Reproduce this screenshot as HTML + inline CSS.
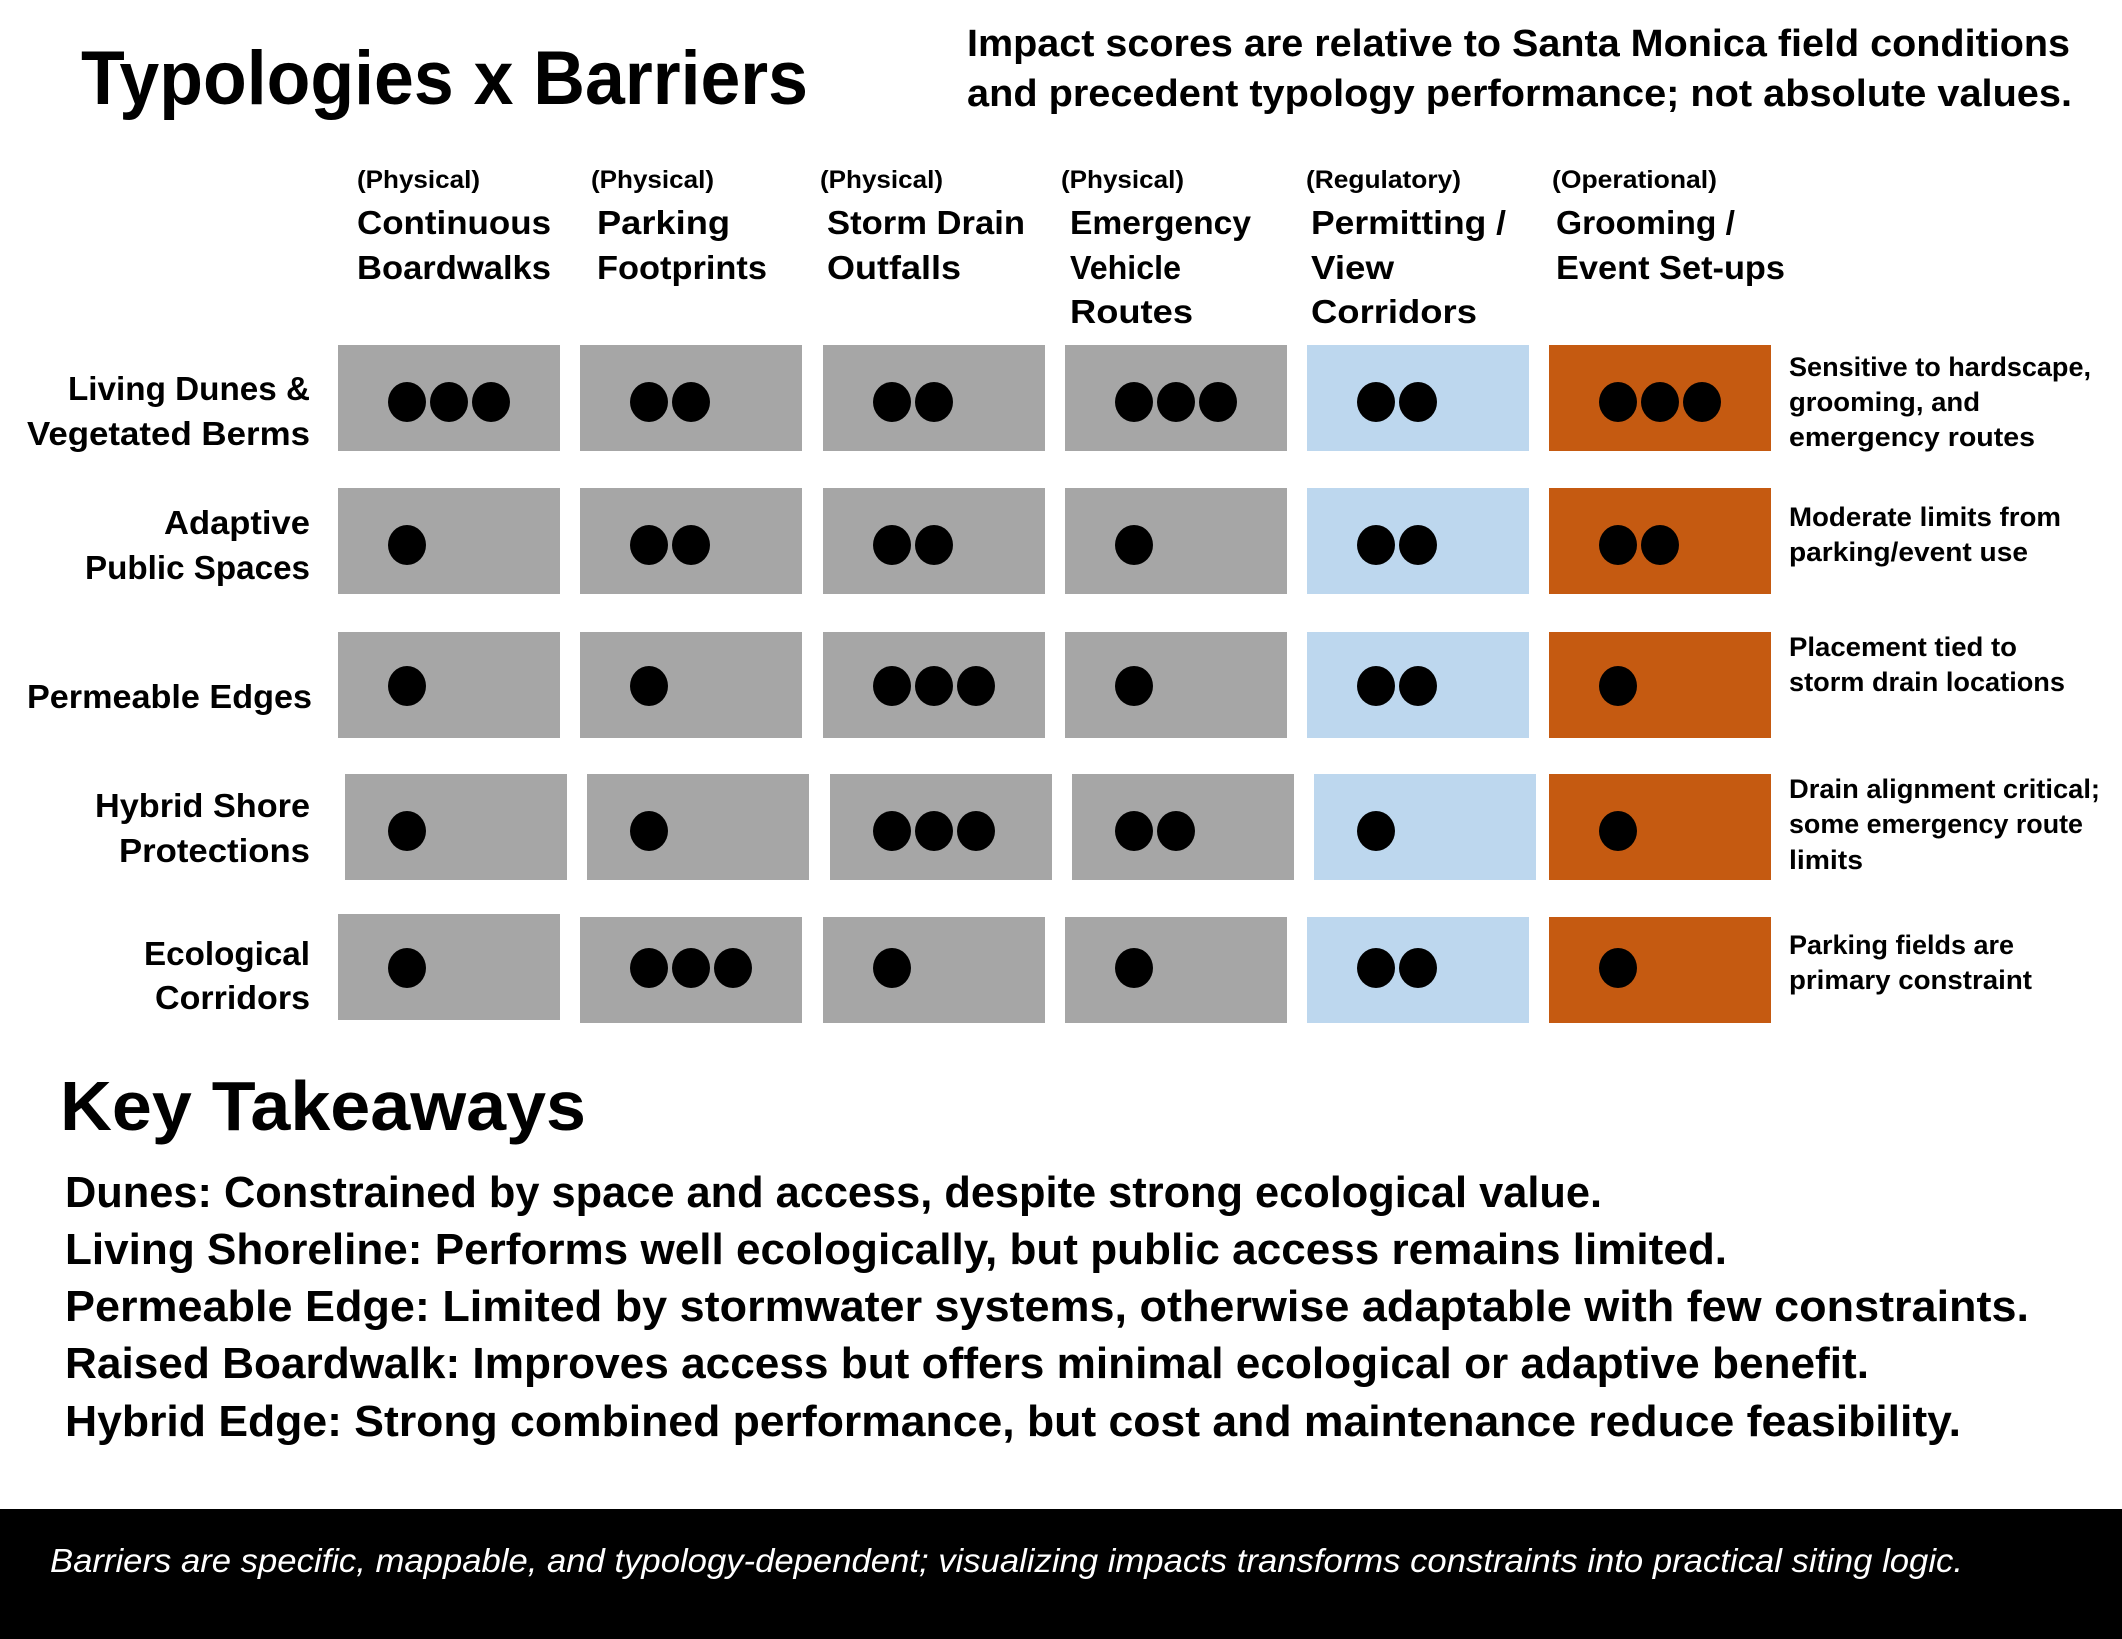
<!DOCTYPE html>
<html><head><meta charset="utf-8"><style>
html,body{margin:0;padding:0;background:#fff}
svg{display:block}
text{font-family:"Liberation Sans",Arial,sans-serif;font-weight:bold;fill:#000}
</style></head><body>
<svg width="2122" height="1639" viewBox="0 0 2122 1639" xmlns="http://www.w3.org/2000/svg">
<rect width="2122" height="1639" fill="#fff"/>
<text x="81" y="104" font-size="76" textLength="727" lengthAdjust="spacingAndGlyphs">Typologies x Barriers</text>
<text x="967" y="56" font-size="38" textLength="1103" lengthAdjust="spacingAndGlyphs">Impact scores are relative to Santa Monica field conditions</text>
<text x="967" y="106" font-size="38" textLength="1105" lengthAdjust="spacingAndGlyphs">and precedent typology performance; not absolute values.</text>

<g font-size="25">
<text x="357" y="188" textLength="123" lengthAdjust="spacingAndGlyphs">(Physical)</text>
<text x="591" y="188" textLength="123" lengthAdjust="spacingAndGlyphs">(Physical)</text>
<text x="820" y="188" textLength="123" lengthAdjust="spacingAndGlyphs">(Physical)</text>
<text x="1061" y="188" textLength="123" lengthAdjust="spacingAndGlyphs">(Physical)</text>
<text x="1306" y="188" textLength="155" lengthAdjust="spacingAndGlyphs">(Regulatory)</text>
<text x="1552" y="188" textLength="165" lengthAdjust="spacingAndGlyphs">(Operational)</text>
</g>
<g font-size="33">
<text x="357" y="234" textLength="194" lengthAdjust="spacingAndGlyphs">Continuous</text>
<text x="357" y="279" textLength="194" lengthAdjust="spacingAndGlyphs">Boardwalks</text>
<text x="597" y="234" textLength="133" lengthAdjust="spacingAndGlyphs">Parking</text>
<text x="597" y="279" textLength="170" lengthAdjust="spacingAndGlyphs">Footprints</text>
<text x="827" y="234" textLength="198" lengthAdjust="spacingAndGlyphs">Storm Drain</text>
<text x="827" y="279" textLength="134" lengthAdjust="spacingAndGlyphs">Outfalls</text>
<text x="1070" y="234" textLength="181" lengthAdjust="spacingAndGlyphs">Emergency</text>
<text x="1070" y="279" textLength="111" lengthAdjust="spacingAndGlyphs">Vehicle</text>
<text x="1070" y="323" textLength="123" lengthAdjust="spacingAndGlyphs">Routes</text>
<text x="1311" y="234" textLength="195" lengthAdjust="spacingAndGlyphs">Permitting /</text>
<text x="1311" y="279" textLength="83" lengthAdjust="spacingAndGlyphs">View</text>
<text x="1311" y="323" textLength="166" lengthAdjust="spacingAndGlyphs">Corridors</text>
<text x="1556" y="234" textLength="179" lengthAdjust="spacingAndGlyphs">Grooming /</text>
<text x="1556" y="279" textLength="229" lengthAdjust="spacingAndGlyphs">Event Set-ups</text>
</g>

<g font-size="33" text-anchor="end">
<text x="310" y="400" textLength="242" lengthAdjust="spacingAndGlyphs">Living Dunes &amp;</text>
<text x="310" y="445" textLength="283" lengthAdjust="spacingAndGlyphs">Vegetated Berms</text>
<text x="310" y="534" textLength="146" lengthAdjust="spacingAndGlyphs">Adaptive</text>
<text x="310" y="579" textLength="225" lengthAdjust="spacingAndGlyphs">Public Spaces</text>
<text x="312" y="708" textLength="285" lengthAdjust="spacingAndGlyphs">Permeable Edges</text>
<text x="310" y="817" textLength="215" lengthAdjust="spacingAndGlyphs">Hybrid Shore</text>
<text x="310" y="862" textLength="191" lengthAdjust="spacingAndGlyphs">Protections</text>
<text x="310" y="965" textLength="166" lengthAdjust="spacingAndGlyphs">Ecological</text>
<text x="310" y="1009" textLength="155" lengthAdjust="spacingAndGlyphs">Corridors</text>
</g>

<g id="boxes">
<!-- row1 -->
<rect x="338" y="345" width="222" height="106" fill="#a6a6a6"/>
<rect x="580" y="345" width="222" height="106" fill="#a6a6a6"/>
<rect x="823" y="345" width="222" height="106" fill="#a6a6a6"/>
<rect x="1065" y="345" width="222" height="106" fill="#a6a6a6"/>
<rect x="1307" y="345" width="222" height="106" fill="#bdd7ee"/>
<rect x="1549" y="345" width="222" height="106" fill="#c55a11"/>
<!-- row2 -->
<rect x="338" y="488" width="222" height="106" fill="#a6a6a6"/>
<rect x="580" y="488" width="222" height="106" fill="#a6a6a6"/>
<rect x="823" y="488" width="222" height="106" fill="#a6a6a6"/>
<rect x="1065" y="488" width="222" height="106" fill="#a6a6a6"/>
<rect x="1307" y="488" width="222" height="106" fill="#bdd7ee"/>
<rect x="1549" y="488" width="222" height="106" fill="#c55a11"/>
<!-- row3 -->
<rect x="338" y="632" width="222" height="106" fill="#a6a6a6"/>
<rect x="580" y="632" width="222" height="106" fill="#a6a6a6"/>
<rect x="823" y="632" width="222" height="106" fill="#a6a6a6"/>
<rect x="1065" y="632" width="222" height="106" fill="#a6a6a6"/>
<rect x="1307" y="632" width="222" height="106" fill="#bdd7ee"/>
<rect x="1549" y="632" width="222" height="106" fill="#c55a11"/>
<!-- row4 -->
<rect x="345" y="774" width="222" height="106" fill="#a6a6a6"/>
<rect x="587" y="774" width="222" height="106" fill="#a6a6a6"/>
<rect x="830" y="774" width="222" height="106" fill="#a6a6a6"/>
<rect x="1072" y="774" width="222" height="106" fill="#a6a6a6"/>
<rect x="1314" y="774" width="222" height="106" fill="#bdd7ee"/>
<rect x="1549" y="774" width="222" height="106" fill="#c55a11"/>
<!-- row5 -->
<rect x="338" y="914" width="222" height="106" fill="#a6a6a6"/>
<rect x="580" y="917" width="222" height="106" fill="#a6a6a6"/>
<rect x="823" y="917" width="222" height="106" fill="#a6a6a6"/>
<rect x="1065" y="917" width="222" height="106" fill="#a6a6a6"/>
<rect x="1307" y="917" width="222" height="106" fill="#bdd7ee"/>
<rect x="1549" y="917" width="222" height="106" fill="#c55a11"/>
</g>

<g fill="#000">
<!-- row1 y=402 : 3,2,2,3,2,3 -->
<ellipse cx="407" cy="402" rx="19" ry="20"/><ellipse cx="449" cy="402" rx="19" ry="20"/><ellipse cx="491" cy="402" rx="19" ry="20"/>
<ellipse cx="649" cy="402" rx="19" ry="20"/><ellipse cx="691" cy="402" rx="19" ry="20"/>
<ellipse cx="892" cy="402" rx="19" ry="20"/><ellipse cx="934" cy="402" rx="19" ry="20"/>
<ellipse cx="1134" cy="402" rx="19" ry="20"/><ellipse cx="1176" cy="402" rx="19" ry="20"/><ellipse cx="1218" cy="402" rx="19" ry="20"/>
<ellipse cx="1376" cy="402" rx="19" ry="20"/><ellipse cx="1418" cy="402" rx="19" ry="20"/>
<ellipse cx="1618" cy="402" rx="19" ry="20"/><ellipse cx="1660" cy="402" rx="19" ry="20"/><ellipse cx="1702" cy="402" rx="19" ry="20"/>
<!-- row2 y=545 : 1,2,2,1,2,2 -->
<ellipse cx="407" cy="545" rx="19" ry="20"/>
<ellipse cx="649" cy="545" rx="19" ry="20"/><ellipse cx="691" cy="545" rx="19" ry="20"/>
<ellipse cx="892" cy="545" rx="19" ry="20"/><ellipse cx="934" cy="545" rx="19" ry="20"/>
<ellipse cx="1134" cy="545" rx="19" ry="20"/>
<ellipse cx="1376" cy="545" rx="19" ry="20"/><ellipse cx="1418" cy="545" rx="19" ry="20"/>
<ellipse cx="1618" cy="545" rx="19" ry="20"/><ellipse cx="1660" cy="545" rx="19" ry="20"/>
<!-- row3 y=686 : 1,1,3,1,2,1 -->
<ellipse cx="407" cy="686" rx="19" ry="20"/>
<ellipse cx="649" cy="686" rx="19" ry="20"/>
<ellipse cx="892" cy="686" rx="19" ry="20"/><ellipse cx="934" cy="686" rx="19" ry="20"/><ellipse cx="976" cy="686" rx="19" ry="20"/>
<ellipse cx="1134" cy="686" rx="19" ry="20"/>
<ellipse cx="1376" cy="686" rx="19" ry="20"/><ellipse cx="1418" cy="686" rx="19" ry="20"/>
<ellipse cx="1618" cy="686" rx="19" ry="20"/>
<!-- row4 y=831 : 1,1,3,2,1,1 -->
<ellipse cx="407" cy="831" rx="19" ry="20"/>
<ellipse cx="649" cy="831" rx="19" ry="20"/>
<ellipse cx="892" cy="831" rx="19" ry="20"/><ellipse cx="934" cy="831" rx="19" ry="20"/><ellipse cx="976" cy="831" rx="19" ry="20"/>
<ellipse cx="1134" cy="831" rx="19" ry="20"/><ellipse cx="1176" cy="831" rx="19" ry="20"/>
<ellipse cx="1376" cy="831" rx="19" ry="20"/>
<ellipse cx="1618" cy="831" rx="19" ry="20"/>
<!-- row5 y=968 : 1,3,1,1,2,1 -->
<ellipse cx="407" cy="968" rx="19" ry="20"/>
<ellipse cx="649" cy="968" rx="19" ry="20"/><ellipse cx="691" cy="968" rx="19" ry="20"/><ellipse cx="733" cy="968" rx="19" ry="20"/>
<ellipse cx="892" cy="968" rx="19" ry="20"/>
<ellipse cx="1134" cy="968" rx="19" ry="20"/>
<ellipse cx="1376" cy="968" rx="19" ry="20"/><ellipse cx="1418" cy="968" rx="19" ry="20"/>
<ellipse cx="1618" cy="968" rx="19" ry="20"/>
</g>

<g font-size="27">
<text x="1789" y="376" textLength="302" lengthAdjust="spacingAndGlyphs">Sensitive to hardscape,</text>
<text x="1789" y="411" textLength="191" lengthAdjust="spacingAndGlyphs">grooming, and</text>
<text x="1789" y="446" textLength="246" lengthAdjust="spacingAndGlyphs">emergency routes</text>
<text x="1789" y="526" textLength="272" lengthAdjust="spacingAndGlyphs">Moderate limits from</text>
<text x="1789" y="561" textLength="239" lengthAdjust="spacingAndGlyphs">parking/event use</text>
<text x="1789" y="656" textLength="228" lengthAdjust="spacingAndGlyphs">Placement tied to</text>
<text x="1789" y="691" textLength="276" lengthAdjust="spacingAndGlyphs">storm drain locations</text>
<text x="1789" y="798" textLength="311" lengthAdjust="spacingAndGlyphs">Drain alignment critical;</text>
<text x="1789" y="833" textLength="294" lengthAdjust="spacingAndGlyphs">some emergency route</text>
<text x="1789" y="869" textLength="74" lengthAdjust="spacingAndGlyphs">limits</text>
<text x="1789" y="954" textLength="225" lengthAdjust="spacingAndGlyphs">Parking fields are</text>
<text x="1789" y="989" textLength="243" lengthAdjust="spacingAndGlyphs">primary constraint</text>
</g>

<text x="60" y="1130" font-size="70" textLength="526" lengthAdjust="spacingAndGlyphs">Key Takeaways</text>
<g font-size="44">
<text x="65" y="1207" textLength="1537" lengthAdjust="spacingAndGlyphs">Dunes: Constrained by space and access, despite strong ecological value.</text>
<text x="65" y="1264" textLength="1662" lengthAdjust="spacingAndGlyphs">Living Shoreline: Performs well ecologically, but public access remains limited.</text>
<text x="65" y="1321" textLength="1964" lengthAdjust="spacingAndGlyphs">Permeable Edge: Limited by stormwater systems, otherwise adaptable with few constraints.</text>
<text x="65" y="1378" textLength="1804" lengthAdjust="spacingAndGlyphs">Raised Boardwalk: Improves access but offers minimal ecological or adaptive benefit.</text>
<text x="65" y="1436" textLength="1896" lengthAdjust="spacingAndGlyphs">Hybrid Edge: Strong combined performance, but cost and maintenance reduce feasibility.</text>
</g>

<rect x="0" y="1509" width="2122" height="130" fill="#000"/>
<text x="50" y="1572" font-size="33" font-weight="normal" font-style="italic" fill="#fff" style="fill:#fff;font-weight:normal" textLength="1913" lengthAdjust="spacingAndGlyphs">Barriers are specific, mappable, and typology-dependent; visualizing impacts transforms constraints into practical siting logic.</text>
</svg>
</body></html>
